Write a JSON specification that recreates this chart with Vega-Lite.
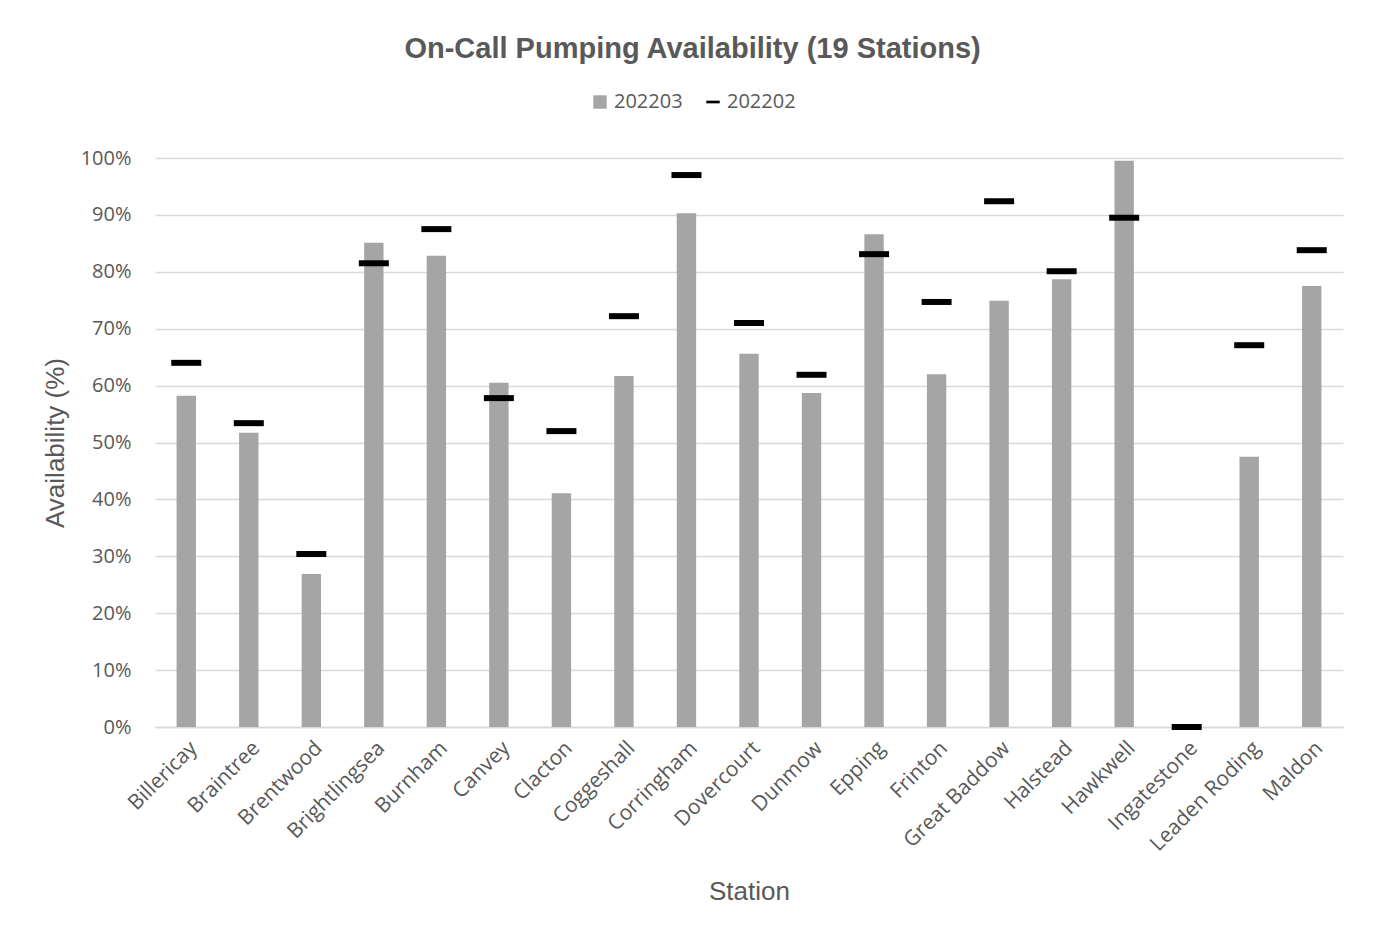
{
  "$schema": "https://vega.github.io/schema/vega-lite/v6.json",
  "width": 1188,
  "height": 569,
  "autosize": {"type": "none"},
  "padding": {"left": 155, "top": 158, "right": 32, "bottom": 203},
  "background": "white",
  "title": {
    "text": "On-Call Pumping Availability (19 Stations)",
    "font": "Liberation Sans",
    "fontSize": 29,
    "fontWeight": "bold",
    "color": "#595959",
    "anchor": "middle",
    "frame": "bounds",
    "offset": 28
  },
  "data": {
    "values": [
      {"station": "Billericay", "series": "202203", "value": 0.582},
      {"station": "Braintree", "series": "202203", "value": 0.517},
      {"station": "Brentwood", "series": "202203", "value": 0.269},
      {"station": "Brightlingsea", "series": "202203", "value": 0.851},
      {"station": "Burnham", "series": "202203", "value": 0.828},
      {"station": "Canvey", "series": "202203", "value": 0.605},
      {"station": "Clacton", "series": "202203", "value": 0.411},
      {"station": "Coggeshall", "series": "202203", "value": 0.617},
      {"station": "Corringham", "series": "202203", "value": 0.903},
      {"station": "Dovercourt", "series": "202203", "value": 0.656},
      {"station": "Dunmow", "series": "202203", "value": 0.587},
      {"station": "Epping", "series": "202203", "value": 0.866},
      {"station": "Frinton", "series": "202203", "value": 0.620},
      {"station": "Great Baddow", "series": "202203", "value": 0.749},
      {"station": "Halstead", "series": "202203", "value": 0.787},
      {"station": "Hawkwell", "series": "202203", "value": 0.995},
      {"station": "Ingatestone", "series": "202203", "value": 0.0},
      {"station": "Leaden Roding", "series": "202203", "value": 0.475},
      {"station": "Maldon", "series": "202203", "value": 0.775},
      {"station": "Billericay", "series": "202202", "value": 0.640},
      {"station": "Braintree", "series": "202202", "value": 0.534},
      {"station": "Brentwood", "series": "202202", "value": 0.304},
      {"station": "Brightlingsea", "series": "202202", "value": 0.815},
      {"station": "Burnham", "series": "202202", "value": 0.875},
      {"station": "Canvey", "series": "202202", "value": 0.578},
      {"station": "Clacton", "series": "202202", "value": 0.520},
      {"station": "Coggeshall", "series": "202202", "value": 0.722},
      {"station": "Corringham", "series": "202202", "value": 0.970},
      {"station": "Dovercourt", "series": "202202", "value": 0.710},
      {"station": "Dunmow", "series": "202202", "value": 0.619},
      {"station": "Epping", "series": "202202", "value": 0.831},
      {"station": "Frinton", "series": "202202", "value": 0.747},
      {"station": "Great Baddow", "series": "202202", "value": 0.924},
      {"station": "Halstead", "series": "202202", "value": 0.801},
      {"station": "Hawkwell", "series": "202202", "value": 0.895},
      {"station": "Ingatestone", "series": "202202", "value": 0.0},
      {"station": "Leaden Roding", "series": "202202", "value": 0.671},
      {"station": "Maldon", "series": "202202", "value": 0.838}
    ]
  },
  "encoding": {
    "x": {
      "field": "station",
      "type": "nominal",
      "sort": null,
      "scale": {"paddingInner": 0.69, "paddingOuter": 0.345},
      "axis": {
        "title": "Station",
        "titleFont": "Liberation Sans",
        "titleFontSize": 26,
        "titleFontWeight": "normal",
        "titleColor": "#595959",
        "titlePadding": 24,
        "labelAngle": -45,
        "labelFont": "Open Sans",
        "labelFontSize": 21,
        "labelColor": "#595959",
        "labelPadding": 10,
        "ticks": false,
        "domainColor": "#d9d9d9",
        "domainWidth": 1.5
      }
    },
    "y": {
      "field": "value",
      "type": "quantitative",
      "scale": {"domain": [0, 1], "nice": false},
      "axis": {
        "title": "Availability (%)",
        "titleFont": "Liberation Sans",
        "titleFontSize": 26,
        "titleFontWeight": "normal",
        "titleColor": "#595959",
        "titlePadding": 12,
        "format": ".0%",
        "values": [0, 0.1, 0.2, 0.3, 0.4, 0.5, 0.6, 0.7, 0.8, 0.9, 1.0],
        "labelFont": "Open Sans",
        "labelFontSize": 20,
        "labelColor": "#595959",
        "labelPadding": 24,
        "ticks": false,
        "domain": false,
        "gridColor": "#d9d9d9",
        "gridWidth": 1.5
      }
    },
    "color": {
      "field": "series",
      "type": "nominal",
      "scale": {"domain": ["202203", "202202"], "range": ["#a5a5a5", "#000000"]},
      "legend": {
        "title": null,
        "orient": "none",
        "direction": "horizontal",
        "legendX": 435,
        "legendY": -66,
        "labelFont": "Open Sans",
        "labelFontSize": 20,
        "labelColor": "#595959",
        "labelOffset": 4,
        "symbolSize": 180,
        "columnPadding": 20,
        "symbolStrokeWidth": 0
      }
    }
  },
  "layer": [
    {
      "transform": [{"filter": "datum.series === '202203'"}],
      "mark": {"type": "bar"}
    },
    {
      "transform": [{"filter": "datum.series === '202202'"}],
      "mark": {"type": "point", "filled": true, "opacity": 1},
      "encoding": {
        "shape": {
          "field": "series",
          "type": "nominal",
          "scale": {"domain": ["202203", "202202"], "range": ["square", "M-1,-0.2H1V0.2H-1Z"]},
          "legend": null
        },
        "size": {"value": 900}
      }
    }
  ],
  "config": {
    "view": {"stroke": null}
  }
}
